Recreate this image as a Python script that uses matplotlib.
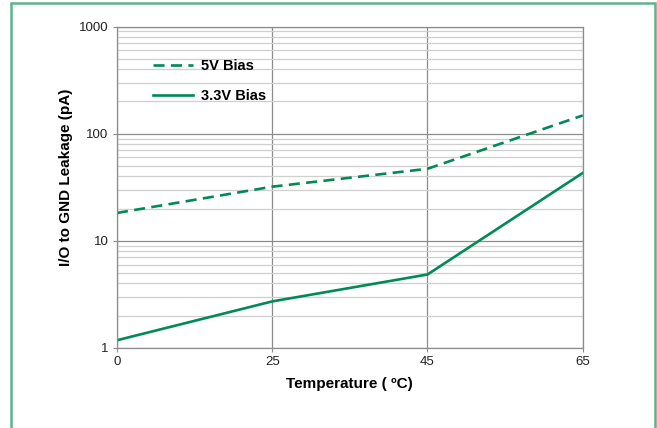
import matplotlib.pyplot as plt
from matplotlib.patches import Rectangle
from matplotlib.ticker import FixedLocator, LogLocator, NullFormatter

temps = ["0", "25", "45", "65"]
bias_5v = [18.2, 32, 47, 148]
bias_3v3 = [1.18, 2.72, 4.85, 43]

green = "#008a55"
grey_major = "#8c8c8c"
grey_minor = "#cfcfcf"

plt.rcParams["font.family"] = ["Liberation Sans", "DejaVu Sans"]

fig = plt.figure(figsize=(6.57, 4.28), dpi=100)
ax = fig.add_axes([0.178, 0.187, 0.709, 0.751])

x = list(range(len(temps)))
ax.plot(x, bias_5v, color=green, lw=1.9, dashes=(4.2, 2.4), label="5V Bias")
ax.plot(x, bias_3v3, color=green, lw=1.9, label="3.3V Bias")

ax.set_yscale("log")
ax.set_ylim(1, 1000)
ax.set_xlim(0, 3)
ax.set_xticks(x)
ax.set_xticklabels(temps)
ax.yaxis.set_major_locator(FixedLocator([1, 10, 100, 1000]))
ax.set_yticklabels(["1", "10", "100", "1000"])
ax.yaxis.set_minor_locator(LogLocator(base=10, subs=range(2, 10)))
ax.yaxis.set_minor_formatter(NullFormatter())

ax.grid(True, which="major", axis="y", color=grey_major, lw=0.9)
ax.grid(True, which="minor", axis="y", color=grey_minor, lw=0.9)
ax.grid(True, which="major", axis="x", color=grey_major, lw=0.9)
ax.set_axisbelow(True)
for s in ax.spines.values():
    s.set_color(grey_major)
    s.set_linewidth(0.9)

ax.tick_params(axis="both", which="major", length=3, color=grey_major,
               labelsize=9.5, labelcolor="#222222", pad=3)
ax.tick_params(axis="y", which="minor", length=0)

ax.set_xlabel("Temperature ( ºC)", fontsize=11, fontweight="bold", labelpad=6)
ax.set_ylabel("I/O to GND Leakage (pA)", fontsize=11, fontweight="bold")
ax.yaxis.set_label_coords(-0.095, 0.53)

leg = ax.legend(loc="upper left", bbox_to_anchor=(0.05, 0.94), frameon=False,
                handlelength=2.7, handletextpad=0.6, labelspacing=1.1,
                prop={"weight": "bold", "size": 10.5})

fig.patches.append(Rectangle((11 / 657, -0.05), (655 - 11) / 657, 1 - 3 / 428 + 0.05,
                             transform=fig.transFigure, fill=False,
                             edgecolor="#5bb48a", lw=1.8, clip_on=False))

fig.savefig("out.png", dpi=100)
